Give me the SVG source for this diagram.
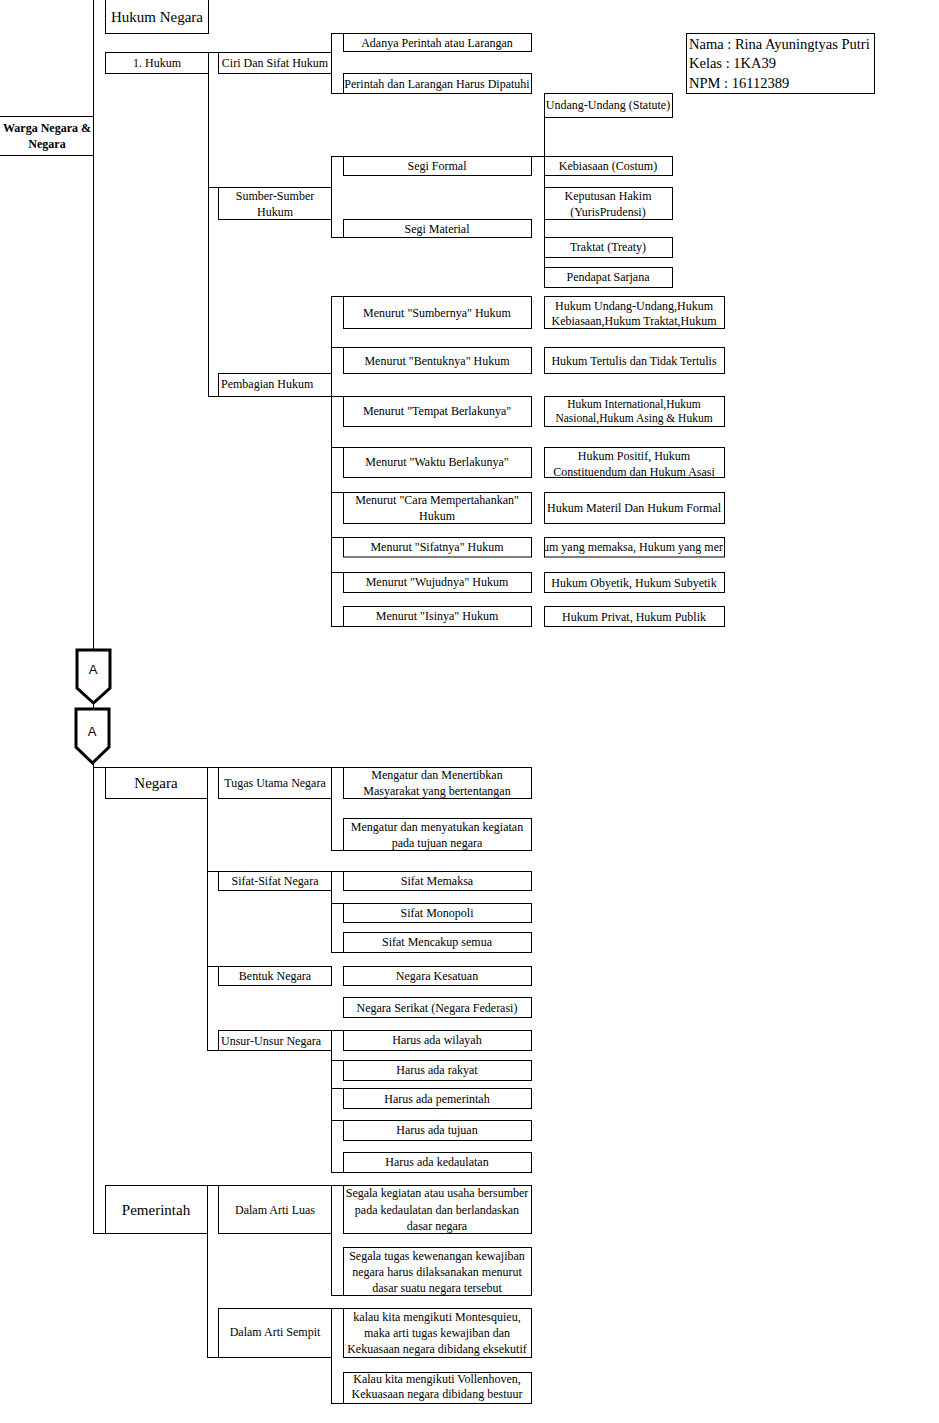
<svg xmlns="http://www.w3.org/2000/svg" width="939" height="1423" viewBox="0 0 939 1423">
<style>
.b{fill:#fff;stroke:#000;stroke-width:1}
.c line{stroke:#000;stroke-width:1}
text{font-family:"Liberation Serif","Times New Roman",serif;font-size:12px;fill:#000;text-anchor:middle}
.big{font-size:15px}
.info{font-size:14.5px;text-anchor:start}
.st{text-anchor:start}
.off{fill:#fff;stroke:#000;stroke-width:3;stroke-linejoin:miter}
.sans{font-family:"Liberation Sans",Arial,sans-serif;font-size:13px}
</style>
<defs>
<clipPath id="clipSifat"><rect x="545" y="538" width="178" height="19"/></clipPath>
</defs>
<rect x="0" y="0" width="939" height="1423" fill="#fff"/>

<g id="connectors" class="c">
<line x1="93.5" y1="0" x2="93.5" y2="650"/>
<line x1="93.5" y1="703" x2="93.5" y2="709"/>
<line x1="93.5" y1="763" x2="93.5" y2="1233.5"/>
<line x1="208.5" y1="52.5" x2="208.5" y2="396.5"/>
<line x1="208" y1="52.5" x2="218" y2="52.5"/>
<line x1="208" y1="187.5" x2="218" y2="187.5"/>
<line x1="208" y1="396.5" x2="218" y2="396.5"/>
<line x1="331.5" y1="33.5" x2="331.5" y2="93.5"/>
<line x1="331" y1="33.5" x2="343" y2="33.5"/>
<line x1="331" y1="93.5" x2="343" y2="93.5"/>
<line x1="331.5" y1="156.5" x2="331.5" y2="237.5"/>
<line x1="331" y1="156.5" x2="343" y2="156.5"/>
<line x1="331" y1="237.5" x2="343" y2="237.5"/>
<line x1="531" y1="156.5" x2="544" y2="156.5"/>
<line x1="544.5" y1="93.5" x2="544.5" y2="287.5"/>
<line x1="331.5" y1="296.5" x2="331.5" y2="626.5"/>
<line x1="331" y1="296.5" x2="343" y2="296.5"/>
<line x1="331" y1="347.5" x2="343" y2="347.5"/>
<line x1="331" y1="396.5" x2="343" y2="396.5"/>
<line x1="331" y1="447.5" x2="343" y2="447.5"/>
<line x1="331" y1="492.5" x2="343" y2="492.5"/>
<line x1="331" y1="537.5" x2="343" y2="537.5"/>
<line x1="331" y1="572.5" x2="343" y2="572.5"/>
<line x1="331" y1="626.5" x2="343" y2="626.5"/>
<line x1="93" y1="767.5" x2="105" y2="767.5"/>
<line x1="93" y1="1233.5" x2="105" y2="1233.5"/>
<line x1="207.5" y1="767.5" x2="207.5" y2="1050.5"/>
<line x1="207" y1="767.5" x2="218" y2="767.5"/>
<line x1="207" y1="871.5" x2="218" y2="871.5"/>
<line x1="207" y1="966.5" x2="218" y2="966.5"/>
<line x1="207" y1="1050.5" x2="218" y2="1050.5"/>
<line x1="331.5" y1="767.5" x2="331.5" y2="850.5"/>
<line x1="331" y1="767.5" x2="343" y2="767.5"/>
<line x1="331" y1="850.5" x2="343" y2="850.5"/>
<line x1="331.5" y1="871.5" x2="331.5" y2="952.5"/>
<line x1="331" y1="871.5" x2="343" y2="871.5"/>
<line x1="331" y1="903.5" x2="343" y2="903.5"/>
<line x1="331" y1="952.5" x2="343" y2="952.5"/>
<line x1="331.5" y1="1030.5" x2="331.5" y2="1172.5"/>
<line x1="331" y1="1030.5" x2="343" y2="1030.5"/>
<line x1="331" y1="1060.5" x2="343" y2="1060.5"/>
<line x1="331" y1="1088.5" x2="343" y2="1088.5"/>
<line x1="331" y1="1120.5" x2="343" y2="1120.5"/>
<line x1="331" y1="1172.5" x2="343" y2="1172.5"/>
<line x1="207.5" y1="1185.5" x2="207.5" y2="1357.5"/>
<line x1="207" y1="1185.5" x2="218" y2="1185.5"/>
<line x1="207" y1="1357.5" x2="218" y2="1357.5"/>
<line x1="331.5" y1="1185.5" x2="331.5" y2="1295.5"/>
<line x1="331" y1="1185.5" x2="343" y2="1185.5"/>
<line x1="331" y1="1295.5" x2="343" y2="1295.5"/>
<line x1="331.5" y1="1308.5" x2="331.5" y2="1403.5"/>
<line x1="331" y1="1308.5" x2="343" y2="1308.5"/>
<line x1="331" y1="1403.5" x2="343" y2="1403.5"/>
</g>

<g id="warga-negara">
<line x1="0" y1="116.5" x2="93" y2="116.5" stroke="#000"/>
<line x1="0" y1="155.5" x2="93" y2="155.5" stroke="#000"/>
<text x="47" y="132" font-weight="bold">Warga Negara &amp;</text>
<text x="47" y="148" font-weight="bold">Negara</text>
</g>

<g id="hukum-negara"><rect class="b" x="105.5" y="-2" width="103" height="35.5"/><text class="big" x="157" y="22">Hukum Negara</text></g>

<g id="info"><rect class="b" x="686.5" y="33.5" width="188" height="60"/>
<text class="info" x="689" y="49">Nama : Rina Ayuningtyas Putri</text>
<text class="info" x="689" y="68">Kelas : 1KA39</text>
<text class="info" x="689" y="88">NPM : 16112389</text></g>

<g id="hukum"><rect class="b" x="105.5" y="52.5" width="103" height="21"/><text x="157" y="67">1. Hukum</text></g>
<g id="ciri"><rect class="b" x="218.5" y="52.5" width="113" height="21"/><text x="275" y="67">Ciri Dan Sifat Hukum</text></g>
<g id="adanya"><rect class="b" x="343.5" y="33.5" width="188" height="18"/><text x="437" y="47">Adanya Perintah atau Larangan</text></g>
<g id="perintah"><rect class="b" x="343.5" y="73.5" width="188" height="20"/><text x="437" y="88">Perintah dan Larangan Harus Dipatuhi</text></g>
<g id="sumber"><rect class="b" x="218.5" y="187.5" width="113" height="32"/><text x="275" y="200">Sumber-Sumber</text><text x="275" y="216">Hukum</text></g>
<g id="segi-formal"><rect class="b" x="343.5" y="156.5" width="188" height="19"/><text x="437" y="170">Segi Formal</text></g>
<g id="segi-material"><rect class="b" x="343.5" y="219.5" width="188" height="18"/><text x="437" y="233">Segi Material</text></g>
<g id="undang"><rect class="b" x="544.5" y="93.5" width="128" height="24"/><text x="608" y="109">Undang-Undang (Statute)</text></g>
<g id="kebiasaan"><rect class="b" x="544.5" y="156.5" width="128" height="19"/><text x="608" y="170">Kebiasaan (Costum)</text></g>
<g id="keputusan"><rect class="b" x="544.5" y="187.5" width="128" height="32"/><text x="608" y="200">Keputusan Hakim</text><text x="608" y="216">(YurisPrudensi)</text></g>
<g id="traktat"><rect class="b" x="544.5" y="237.5" width="128" height="20"/><text x="608" y="251">Traktat (Treaty)</text></g>
<g id="pendapat"><rect class="b" x="544.5" y="267.5" width="128" height="20"/><text x="608" y="281">Pendapat Sarjana</text></g>

<g id="pembagian"><rect class="b" x="218.5" y="373.5" width="113" height="23"/><text class="st" x="221" y="388">Pembagian Hukum</text></g>

<g id="r1"><rect class="b" x="343.5" y="296.5" width="188" height="32"/><text x="437" y="317">Menurut "Sumbernya" Hukum</text></g>
<g id="r1b"><rect class="b" x="544.5" y="296.5" width="180" height="32"/><text x="634" y="310">Hukum Undang-Undang,Hukum</text><text x="634" y="325">Kebiasaan,Hukum Traktat,Hukum</text></g>
<g id="r2"><rect class="b" x="343.5" y="347.5" width="188" height="26"/><text x="437" y="365">Menurut "Bentuknya" Hukum</text></g>
<g id="r2b"><rect class="b" x="544.5" y="347.5" width="180" height="26"/><text x="634" y="365">Hukum Tertulis dan Tidak Tertulis</text></g>
<g id="r3"><rect class="b" x="343.5" y="396.5" width="188" height="30"/><text x="437" y="415">Menurut "Tempat Berlakunya"</text></g>
<g id="r3b"><rect class="b" x="544.5" y="396.5" width="180" height="30"/><text x="634" y="407.5" style="font-size:11.5px">Hukum International,Hukum</text><text x="634" y="422" style="font-size:11.5px">Nasional,Hukum Asing &amp; Hukum</text></g>
<g id="r4"><rect class="b" x="343.5" y="447.5" width="188" height="30"/><text x="437" y="466">Menurut "Waktu Berlakunya"</text></g>
<g id="r4b"><rect class="b" x="544.5" y="447.5" width="180" height="30"/><text x="634" y="460">Hukum Positif, Hukum</text><text x="634" y="476">Constituendum dan Hukum Asasi</text></g>
<g id="r5"><rect class="b" x="343.5" y="492.5" width="188" height="31"/><text x="437" y="504">Menurut "Cara Mempertahankan"</text><text x="437" y="520">Hukum</text></g>
<g id="r5b"><rect class="b" x="544.5" y="492.5" width="180" height="31"/><text x="634" y="512">Hukum Materil Dan Hukum Formal</text></g>
<g id="r6"><rect class="b" x="343.5" y="537.5" width="188" height="19.5"/><text x="437" y="551">Menurut "Sifatnya" Hukum</text></g>
<g id="r6b"><rect class="b" x="544.5" y="537.5" width="180" height="19.5"/><text x="636" y="551" clip-path="url(#clipSifat)">Hukum yang memaksa, Hukum yang mengatur</text></g>
<g id="r7"><rect class="b" x="343.5" y="572.5" width="188" height="20"/><text x="437" y="586">Menurut "Wujudnya" Hukum</text></g>
<g id="r7b"><rect class="b" x="544.5" y="572.5" width="180" height="20"/><text x="634" y="587">Hukum Obyetik, Hukum Subyetik</text></g>
<g id="r8"><rect class="b" x="343.5" y="606.5" width="188" height="20"/><text x="437" y="620">Menurut "Isinya" Hukum</text></g>
<g id="r8b"><rect class="b" x="544.5" y="606.5" width="180" height="20"/><text x="634" y="621">Hukum Privat, Hukum Publik</text></g>

<g id="off-a1"><polygon class="off" points="77,650 110,650 110,688 93.5,703 77,688"/><text class="sans" x="93" y="674">A</text></g>
<g id="off-a2"><polygon class="off" points="76,709 109,709 109,747 92.5,763 76,747"/><text class="sans" x="92" y="736">A</text></g>

<g id="negara"><rect class="b" x="105.5" y="767.5" width="102" height="31"/><text class="big" x="156" y="788">Negara</text></g>
<g id="tugas"><rect class="b" x="218.5" y="767.5" width="113" height="31"/><text x="275" y="787">Tugas Utama Negara</text></g>
<g id="mengatur1"><rect class="b" x="343.5" y="767.5" width="188" height="31"/><text x="437" y="779">Mengatur dan Menertibkan</text><text x="437" y="795">Masyarakat yang bertentangan</text></g>
<g id="mengatur2"><rect class="b" x="343.5" y="818.5" width="188" height="32"/><text x="437" y="831">Mengatur dan menyatukan kegiatan</text><text x="437" y="847">pada tujuan negara</text></g>
<g id="sifat"><rect class="b" x="218.5" y="871.5" width="113" height="19"/><text x="275" y="885">Sifat-Sifat Negara</text></g>
<g id="memaksa"><rect class="b" x="343.5" y="871.5" width="188" height="19"/><text x="437" y="885">Sifat Memaksa</text></g>
<g id="monopoli"><rect class="b" x="343.5" y="903.5" width="188" height="19"/><text x="437" y="917">Sifat Monopoli</text></g>
<g id="mencakup"><rect class="b" x="343.5" y="932.5" width="188" height="20"/><text x="437" y="946">Sifat Mencakup semua</text></g>
<g id="bentuk"><rect class="b" x="218.5" y="966.5" width="113" height="19"/><text x="275" y="980">Bentuk Negara</text></g>
<g id="kesatuan"><rect class="b" x="343.5" y="966.5" width="188" height="19"/><text x="437" y="980">Negara Kesatuan</text></g>
<g id="serikat"><rect class="b" x="343.5" y="997.5" width="188" height="20"/><text x="437" y="1012">Negara Serikat (Negara Federasi)</text></g>
<g id="unsur"><rect class="b" x="218.5" y="1030.5" width="113" height="20"/><text class="st" x="221" y="1045">Unsur-Unsur Negara</text></g>
<g id="wilayah"><rect class="b" x="343.5" y="1030.5" width="188" height="20"/><text x="437" y="1044">Harus ada wilayah</text></g>
<g id="rakyat"><rect class="b" x="343.5" y="1060.5" width="188" height="20"/><text x="437" y="1074">Harus ada rakyat</text></g>
<g id="pemerintah-u"><rect class="b" x="343.5" y="1088.5" width="188" height="20"/><text x="437" y="1103">Harus ada pemerintah</text></g>
<g id="tujuan"><rect class="b" x="343.5" y="1120.5" width="188" height="20"/><text x="437" y="1134">Harus ada tujuan</text></g>
<g id="kedaulatan"><rect class="b" x="343.5" y="1152.5" width="188" height="20"/><text x="437" y="1166">Harus ada kedaulatan</text></g>

<g id="pemerintah"><rect class="b" x="105.5" y="1185.5" width="102" height="48"/><text class="big" x="156" y="1215">Pemerintah</text></g>
<g id="luas"><rect class="b" x="218.5" y="1185.5" width="113" height="48"/><text x="275" y="1214">Dalam Arti Luas</text></g>
<g id="segala1"><rect class="b" x="343.5" y="1185.5" width="188" height="48"/><text x="437" y="1197">Segala kegiatan atau usaha bersumber</text><text x="437" y="1214">pada kedaulatan dan berlandaskan</text><text x="437" y="1230">dasar negara</text></g>
<g id="segala2"><rect class="b" x="343.5" y="1247.5" width="188" height="48"/><text x="437" y="1260">Segala tugas kewenangan kewajiban</text><text x="437" y="1276">negara harus dilaksanakan menurut</text><text x="437" y="1292">dasar suatu negara tersebut</text></g>
<g id="sempit"><rect class="b" x="218.5" y="1308.5" width="113" height="49"/><text x="275" y="1336">Dalam Arti Sempit</text></g>
<g id="kalau1"><rect class="b" x="343.5" y="1308.5" width="188" height="49"/><text x="437" y="1321">kalau kita mengikuti Montesquieu,</text><text x="437" y="1337">maka arti tugas kewajiban dan</text><text x="437" y="1353">Kekuasaan negara dibidang eksekutif</text></g>
<g id="kalau2"><rect class="b" x="343.5" y="1372.5" width="188" height="31"/><text x="437" y="1383">Kalau kita mengikuti Vollenhoven,</text><text x="437" y="1398">Kekuasaan negara dibidang bestuur</text></g>
</svg>
